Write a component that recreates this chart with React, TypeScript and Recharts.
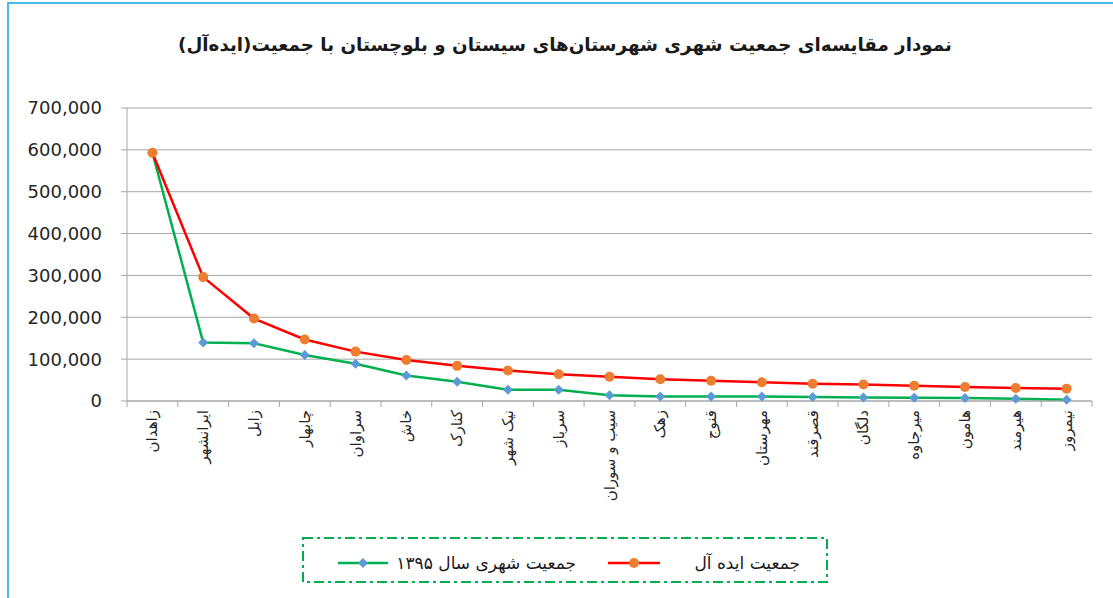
import { LineChart, Line, XAxis, YAxis, CartesianGrid } from 'recharts';

const cities = [
  'زاهدان', 'ایرانشهر', 'زابل', 'چابهار', 'سراوان', 'خاش', 'کنارک', 'نیک شهر', 'سرباز',
  'سیب و سوران', 'زهک', 'قنوج', 'مهرستان', 'قصرقند', 'دلگان', 'میرجاوه', 'هامون', 'هیرمند', 'نیمروز',
];

// جمعیت ایده آل
const idealPop = [
  593000, 296000, 197000, 147000, 118000, 98000, 84000, 73000, 64000, 58000,
  52000, 48500, 45000, 41000, 39500, 36500, 33500, 31000, 29500,
];

// جمعیت شهری سال ۱۳۹۵
const urbanPop1395 = [
  593000, 140000, 138000, 110000, 89000, 61000, 46000, 27000, 27000, 14000,
  11000, 11000, 10500, 9500, 8500, 8000, 7000, 5500, 3000,
];

const yTicks = [0, 100000, 200000, 300000, 400000, 500000, 600000, 700000];

const data = cities.map((name, i) => ({
  name,
  ideal: idealPop[i],
  urban: urbanPop1395[i],
}));

const CHART_W = 1113;
const CHART_H = 598;
const MARGIN = { top: 108, right: 21, bottom: 47, left: 0 };
const Y_W = 127;
const BAND = (CHART_W - MARGIN.right - Y_W) / cities.length;

const AXIS_GRAY = '#A6A6A6';
const FONT = '"DejaVu Sans", sans-serif';

function CityTick(props: any) {
  const { x, y, index } = props;
  const last = index === cities.length - 1;
  return (
    <g>
      <line x1={x - BAND / 2} x2={x - BAND / 2} y1={y} y2={y + 6} stroke={AXIS_GRAY} />
      {last && <line x1={x + BAND / 2} x2={x + BAND / 2} y1={y} y2={y + 6} stroke={AXIS_GRAY} />}
      <text
        x={x + 5}
        y={y + 9}
        transform={`rotate(-90, ${x + 5}, ${y + 9})`}
        textAnchor="end"
        fontSize={15}
        fontFamily={FONT}
        fill="#262626"
      >
        {props.payload.value}
      </text>
    </g>
  );
}

function Diamond(props: any) {
  const { cx, cy } = props;
  if (cx == null || cy == null) return null;
  const r = 5;
  return (
    <polygon
      points={`${cx},${cy - r} ${cx + r},${cy} ${cx},${cy + r} ${cx - r},${cy}`}
      fill="#5B9BD5"
    />
  );
}

function ChartLegend() {
  return (
    <svg width={530} height={50} style={{ position: 'absolute', left: 300, top: 535 }}>
      <rect x={3} y={3} width={524} height={44} fill="none" stroke="#00B050" strokeWidth={2} strokeDasharray="10 4 3 4" />
      <line x1={38} x2={88} y1={28} y2={28} stroke="#00B050" strokeWidth={2.5} />
      <polygon points="63,23 68,28 63,33 58,28" fill="#5B9BD5" />
      <text x={276} y={34} textAnchor="end" fontSize={17} fontFamily={FONT} fill="#1a1a1a">
        جمعیت شهری سال ۱۳۹۵
      </text>
      <line x1={308} x2={360} y1={28} y2={28} stroke="#FF0000" strokeWidth={2.5} />
      <circle cx={334} cy={28} r={5} fill="#ED7D31" />
      <text x={500} y={34} textAnchor="end" fontSize={17} fontFamily={FONT} fill="#1a1a1a">
        جمعیت ایده آل
      </text>
    </svg>
  );
}

export default function App() {
  return (
    <div
      style={{
        position: 'absolute',
        left: 0,
        top: 0,
        width: CHART_W,
        height: CHART_H,
        overflow: 'hidden',
        background: '#fff',
      }}
    >
      <div
        style={{
          position: 'absolute',
          left: 7,
          top: 2,
          width: 1300,
          height: 800,
          border: '2px solid #4DB8E8',
        }}
      />
      <div
        style={{
          position: 'absolute',
          left: 0,
          top: 34,
          width: 1130,
          textAlign: 'center',
          direction: 'rtl',
          fontFamily: FONT,
          fontWeight: 'bold',
          fontSize: 18.3,
          color: '#1a1a1a',
        }}
      >
        نمودار مقایسه‌ای جمعیت شهری شهرستان‌های سیستان و بلوچستان با جمعیت(ایده‌آل)
      </div>
      <div style={{ position: 'absolute', left: 0, top: 0 }}>
        <LineChart width={CHART_W} height={CHART_H} data={data} margin={MARGIN}>
          <CartesianGrid vertical={false} stroke={AXIS_GRAY} strokeWidth={1} />
          <XAxis
            dataKey="name"
            interval={0}
            padding={{ left: BAND / 2, right: BAND / 2 }}
            tickLine={false}
            tickSize={0}
            tickMargin={0}
            height={150}
            axisLine={{ stroke: AXIS_GRAY }}
            tick={<CityTick />}
          />
          <YAxis
            width={Y_W}
            domain={[0, 700000]}
            ticks={yTicks}
            interval={0}
            tickSize={6}
            tickMargin={19}
            tickLine={{ stroke: AXIS_GRAY }}
            axisLine={{ stroke: AXIS_GRAY }}
            tick={{ fill: '#262626', fontSize: 18, fontFamily: FONT }}
            tickFormatter={(v: number) => v.toLocaleString('en-US')}
          />
          <Line
            dataKey="urban"
            stroke="#00B050"
            strokeWidth={2.5}
            dot={<Diamond />}
            activeDot={false}
            isAnimationActive={false}
          />
          <Line
            dataKey="ideal"
            stroke="#FF0000"
            strokeWidth={2.5}
            dot={{ r: 5, fill: '#ED7D31', stroke: 'none' }}
            activeDot={false}
            isAnimationActive={false}
          />
        </LineChart>
      </div>
      <ChartLegend />
    </div>
  );
}
